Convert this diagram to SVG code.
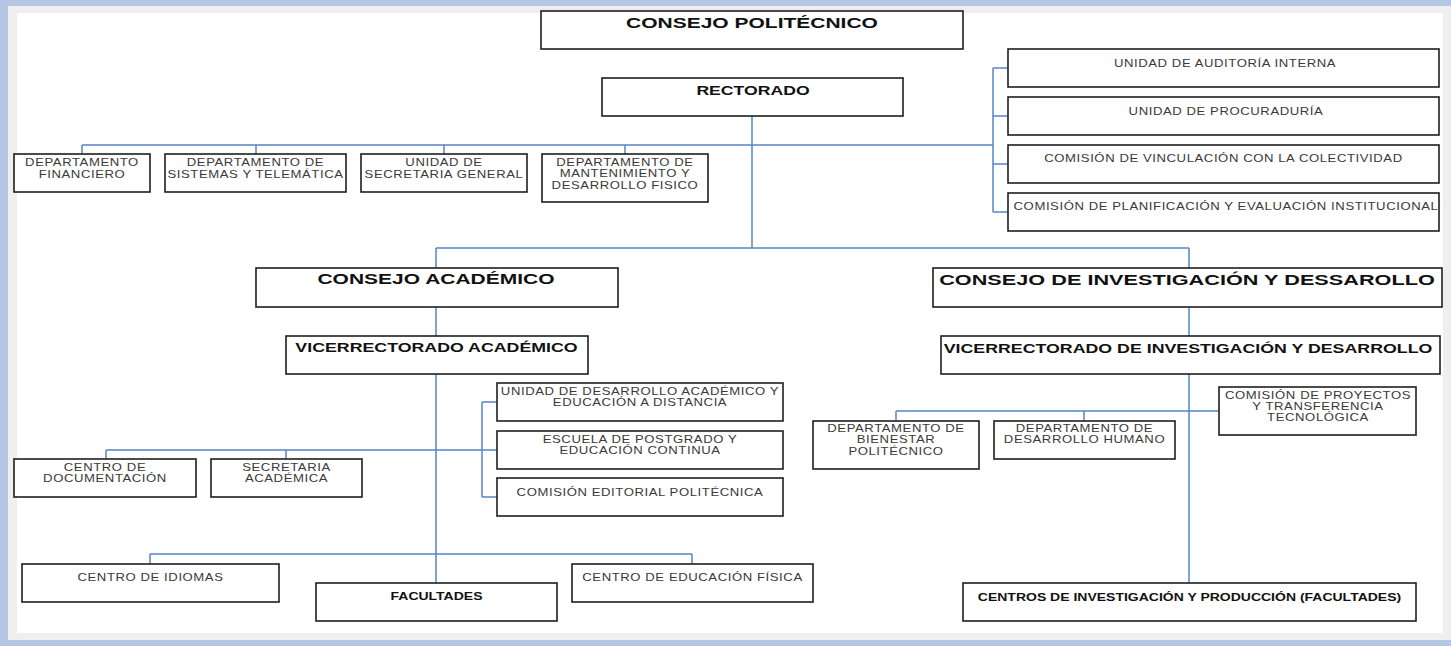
<svg xmlns="http://www.w3.org/2000/svg" width="1451" height="646" viewBox="0 0 1451 646">
<style>
.box{fill:#fff;stroke:#1e1e1e;stroke-width:1.6}
.ln{fill:none;stroke:#5585c8;stroke-width:1.5}
.s{font-family:"Liberation Sans",Arial,sans-serif;font-size:10.5px;letter-spacing:0.46px;fill:#3a3a3a;text-anchor:middle}
.b{font-family:"Liberation Sans",Arial,sans-serif;font-weight:bold;fill:#111;text-anchor:middle}
</style>
<rect x="0" y="0" width="1451" height="646" fill="#b6c7e5"/>
<rect x="8" y="6" width="1443" height="634" fill="#efefef"/>
<rect x="17" y="13" width="1426" height="620" fill="#ffffff"/>

<g id="connectors">
<path class="ln" d="M752 116V248"/>
<path class="ln" d="M82 145H993M82 145V154M256 145V154M444 145V154M625 145V154"/>
<path class="ln" d="M993 68V212M993 68H1008M993 116H1008M993 164H1008M993 212H1008"/>
<path class="ln" d="M436 248H1189M436 248V268M1189 248V268"/>
<path class="ln" d="M436 307V336M1189 307V336"/>
<path class="ln" d="M436 374V583"/>
<path class="ln" d="M482 402V497M482 402H497M482 497H497"/>
<path class="ln" d="M106 450H497M106 450V459M286 450V459"/>
<path class="ln" d="M150 554H692M150 554V564M692 554V564"/>
<path class="ln" d="M1189 374V583"/>
<path class="ln" d="M896 411H1219M896 411V421M1084 411V421"/>
</g>

<g id="consejo-politecnico">
<rect class="box" x="541" y="11" width="422" height="38"/>
<text class="b" font-size="15" transform="translate(752 27.5) scale(1.4 1)">CONSEJO POLITÉCNICO</text>
</g>
<g id="rectorado">
<rect class="box" x="602" y="78" width="301" height="38"/>
<text class="b" font-size="12.6" transform="translate(753 95) scale(1.4 1)">RECTORADO</text>
</g>

<g id="dep-financiero">
<rect class="box" x="14" y="154" width="136" height="38"/>
<text class="s" transform="translate(82 166) scale(1.25 1)"><tspan x="0" y="0">DEPARTAMENTO</tspan><tspan x="0" y="12">FINANCIERO</tspan></text>
</g>
<g id="dep-sistemas">
<rect class="box" x="165" y="154" width="181" height="38"/>
<text class="s" transform="translate(255.5 166) scale(1.25 1)"><tspan x="0" y="0">DEPARTAMENTO DE</tspan><tspan x="0" y="12">SISTEMAS Y TELEMÁTICA</tspan></text>
</g>
<g id="unidad-secretaria">
<rect class="box" x="361" y="154" width="166" height="38"/>
<text class="s" transform="translate(444 166) scale(1.25 1)"><tspan x="0" y="0">UNIDAD DE</tspan><tspan x="0" y="12">SECRETARIA GENERAL</tspan></text>
</g>
<g id="dep-mantenimiento">
<rect class="box" x="542" y="154" width="166" height="48"/>
<text class="s" transform="translate(625 166) scale(1.25 1)"><tspan x="0" y="0">DEPARTAMENTO DE</tspan><tspan x="0" y="11.5">MANTENIMIENTO Y</tspan><tspan x="0" y="23">DESARROLLO FISICO</tspan></text>
</g>

<g id="auditoria">
<rect class="box" x="1008" y="49" width="431" height="38"/>
<text class="s" transform="translate(1225 67) scale(1.25 1)">UNIDAD DE AUDITORÍA INTERNA</text>
</g>
<g id="procuraduria">
<rect class="box" x="1008" y="97" width="431" height="38"/>
<text class="s" transform="translate(1226 115) scale(1.25 1)">UNIDAD DE PROCURADURÍA</text>
</g>
<g id="vinculacion">
<rect class="box" x="1008" y="145" width="431" height="38"/>
<text class="s" transform="translate(1223.5 162) scale(1.25 1)">COMISIÓN DE VINCULACIÓN CON LA COLECTIVIDAD</text>
</g>
<g id="planificacion">
<rect class="box" x="1008" y="193" width="431" height="38"/>
<text class="s" transform="translate(1226 210) scale(1.25 1)">COMISIÓN DE PLANIFICACIÓN Y EVALUACIÓN INSTITUCIONAL</text>
</g>

<g id="consejo-academico">
<rect class="box" x="256" y="268" width="362" height="39"/>
<text class="b" font-size="15" transform="translate(436 284) scale(1.4 1)">CONSEJO ACADÉMICO</text>
</g>
<g id="consejo-investigacion">
<rect class="box" x="933" y="268" width="509" height="39"/>
<text class="b" font-size="15.5" transform="translate(1187 285) scale(1.4 1)">CONSEJO DE INVESTIGACIÓN Y DESSAROLLO</text>
</g>
<g id="vicerrectorado-academico">
<rect class="box" x="286" y="336" width="302" height="38"/>
<text class="b" font-size="12.7" transform="translate(436.5 352) scale(1.4 1)">VICERRECTORADO ACADÉMICO</text>
</g>
<g id="vicerrectorado-investigacion">
<rect class="box" x="941" y="336" width="499" height="38"/>
<text class="b" font-size="12.7" transform="translate(1188 353) scale(1.4 1)">VICERRECTORADO DE INVESTIGACIÓN Y DESARROLLO</text>
</g>

<g id="unidad-desarrollo-academico">
<rect class="box" x="497" y="383" width="286" height="38"/>
<text class="s" transform="translate(640 395) scale(1.25 1)"><tspan x="0" y="0">UNIDAD DE DESARROLLO ACADÉMICO Y</tspan><tspan x="0" y="11">EDUCACIÓN A DISTANCIA</tspan></text>
</g>
<g id="escuela-postgrado">
<rect class="box" x="497" y="431" width="286" height="38"/>
<text class="s" transform="translate(640 443) scale(1.25 1)"><tspan x="0" y="0">ESCUELA DE POSTGRADO Y</tspan><tspan x="0" y="11">EDUCACIÓN CONTINUA</tspan></text>
</g>
<g id="comision-editorial">
<rect class="box" x="497" y="478" width="286" height="38"/>
<text class="s" transform="translate(640 496) scale(1.25 1)">COMISIÓN EDITORIAL POLITÉCNICA</text>
</g>
<g id="centro-documentacion">
<rect class="box" x="14" y="459" width="182" height="38"/>
<text class="s" transform="translate(105 471) scale(1.25 1)"><tspan x="0" y="0">CENTRO DE</tspan><tspan x="0" y="11">DOCUMENTACIÓN</tspan></text>
</g>
<g id="secretaria-academica">
<rect class="box" x="211" y="459" width="151" height="38"/>
<text class="s" transform="translate(286.5 471) scale(1.25 1)"><tspan x="0" y="0">SECRETARIA</tspan><tspan x="0" y="11">ACADÉMICA</tspan></text>
</g>

<g id="centro-idiomas">
<rect class="box" x="22" y="564" width="257" height="38"/>
<text class="s" transform="translate(150.5 581) scale(1.25 1)">CENTRO DE IDIOMAS</text>
</g>
<g id="facultades">
<rect class="box" x="316" y="583" width="241" height="38"/>
<text class="b" font-size="10" transform="translate(436.5 599.5) scale(1.4 1)">FACULTADES</text>
</g>
<g id="centro-educacion-fisica">
<rect class="box" x="572" y="564" width="241" height="38"/>
<text class="s" transform="translate(692.5 581) scale(1.25 1)">CENTRO DE EDUCACIÓN FÍSICA</text>
</g>

<g id="dep-bienestar">
<rect class="box" x="813" y="421" width="166" height="48"/>
<text class="s" transform="translate(896 432) scale(1.25 1)"><tspan x="0" y="0">DEPARTAMENTO DE</tspan><tspan x="0" y="11.5">BIENESTAR</tspan><tspan x="0" y="23">POLITÉCNICO</tspan></text>
</g>
<g id="dep-desarrollo-humano">
<rect class="box" x="994" y="421" width="181" height="38"/>
<text class="s" transform="translate(1084.5 432) scale(1.25 1)"><tspan x="0" y="0">DEPARTAMENTO DE</tspan><tspan x="0" y="11.5">DESARROLLO HUMANO</tspan></text>
</g>
<g id="comision-proyectos">
<rect class="box" x="1219" y="387" width="197" height="48"/>
<text class="s" transform="translate(1318 399) scale(1.25 1)"><tspan x="0" y="0">COMISIÓN DE PROYECTOS</tspan><tspan x="0" y="11">Y TRANSFERENCIA</tspan><tspan x="0" y="22">TECNOLÓGICA</tspan></text>
</g>
<g id="centros-investigacion">
<rect class="box" x="963" y="583" width="453" height="38"/>
<text class="b" font-size="10" transform="translate(1189.5 601) scale(1.4 1)">CENTROS DE INVESTIGACIÓN Y PRODUCCIÓN (FACULTADES)</text>
</g>
</svg>
